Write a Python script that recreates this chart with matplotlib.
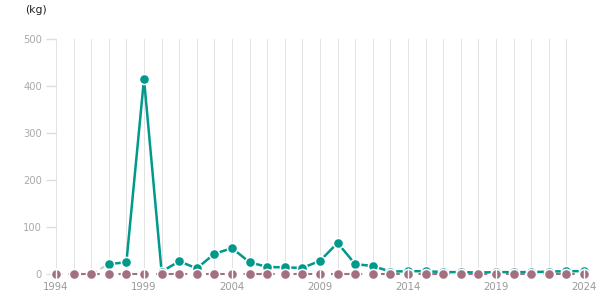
import matplotlib
matplotlib.use("Agg")
import matplotlib.pyplot as plt
import numpy as np

# data
years = list(range(1994, 2025))
teal_vals = [None, None, 0, 21, 25, 415, 5, 27, 12, 43, 55, 25, 15, 14, 13, 28,
             66, 21, 17, 5, 6, 6, 4, 4, 3, 4, 4, 4, 5, 6, 6]
mauve_vals = [0] * len(years)
xtick_years = [1994, 1999, 2004, 2009, 2014, 2019, 2024]
yticks = [0, 100, 200, 300, 400, 500]

teal = "#00998c"
mauve = "#a3707f"

fig = plt.figure(figsize=(6.15, 3.05), dpi=100)
ax = fig.add_axes([56 / 615, 31 / 305, 528 / 615, 235 / 305])

# vertical grid, one per year
for yr in years:
    ax.axvline(yr, color="#e3e3e3", lw=0.72, zorder=0, snap=True)

# teal series: first segment (from the zero start) is grey dashed
tx = np.array([y for y, v in zip(years, teal_vals) if v is not None])
ty = np.array([v for v in teal_vals if v is not None], dtype=float)
ax.plot(tx[:2], ty[:2], color="#cccccc", lw=1.5, ls=(0, (3, 2)), zorder=2,
        clip_on=False)
ax.plot(tx[1:], ty[1:], color=teal, lw=1.8, zorder=3, clip_on=False)
ax.plot(tx[1:], ty[1:], ls="none", marker="o", ms=7.3, mfc=teal, mec="white",
        mew=1.1, zorder=4, clip_on=False)

# mauve series on top
ax.plot(years, mauve_vals, color=mauve, lw=1.5, ls=(0, (3, 3)), zorder=5,
        clip_on=False)
ax.plot(years, mauve_vals, ls="none", marker="o", ms=7.3, mfc=mauve, mec="white",
        mew=1.1, zorder=6, clip_on=False)

ax.set_xlim(1994, 2024)
ax.set_ylim(0, 500)
ax.set_xticks(xtick_years)
ax.set_xticklabels([str(y) for y in xtick_years])
ax.set_yticks(yticks)
for s in ax.spines.values():
    s.set_visible(False)

ax.xaxis.set_zorder(7)
ax.tick_params(axis="x", colors="white", labelcolor="#999999", labelsize=7.2,
               direction="inout", length=8, width=1, pad=2)
ax.tick_params(axis="y", colors="#dddddd", labelcolor="#aaaaaa", labelsize=7.2,
               length=7, width=1, pad=3)

fig.text(25 / 615, 1 - 10 / 305, "(kg)", fontsize=7.8, color="#222222",
         va="center", ha="left")

fig.savefig("out.png", dpi=100)
